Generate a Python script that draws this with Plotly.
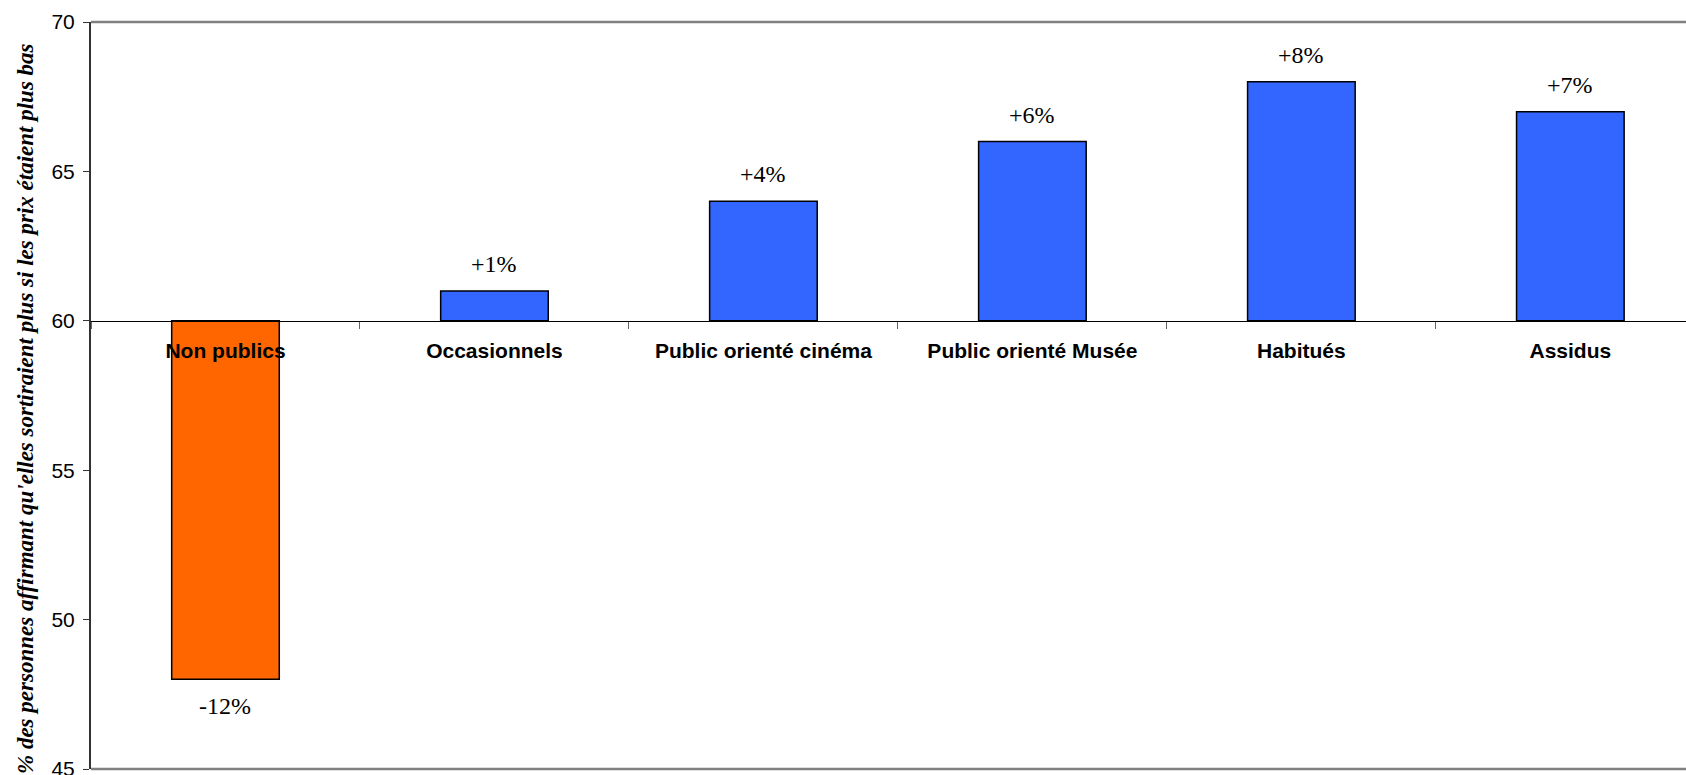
import plotly.graph_objects as go

categories = ["Non publics", "Occasionnels", "Public orienté cinéma",
              "Public orienté Musée", "Habitués", "Assidus"]
values = [48, 61, 64, 66, 68, 67]
value_labels = ["-12%", "+1%", "+4%", "+6%", "+8%", "+7%"]
bar_colors = ["#FF6600", "#3366FF", "#3366FF", "#3366FF", "#3366FF", "#3366FF"]
BASELINE = 60
Y_MIN, Y_MAX = 45, 70
y_ticks = [45, 50, 55, 60, 65, 70]
y_title = "% des personnes affirmant qu'elles sortiraient plus si les prix étaient plus bas"

fig = go.Figure()
fig.add_trace(go.Bar(
    x=categories,
    y=[v - BASELINE for v in values],
    base=BASELINE,
    marker=dict(color=bar_colors, line=dict(color="#000000", width=1.5)),
    width=0.40,
    hoverinfo="skip",
))

for cat, v, lab in zip(categories, values, value_labels):
    up = v >= BASELINE
    fig.add_annotation(
        x=cat, y=v, xref="x", yref="y", text=lab, showarrow=False,
        yanchor="bottom" if up else "top",
        yshift=12 if up else -12,
        font=dict(family="Liberation Serif, Times New Roman, serif", size=24, color="#000"),
    )

pos = (BASELINE - Y_MIN) / (Y_MAX - Y_MIN)

fig.update_layout(
    width=1686, height=775,
    margin=dict(l=91, r=0, t=22, b=6),
    paper_bgcolor="white", plot_bgcolor="white",
    showlegend=False,
    xaxis=dict(
        type="category", range=[-0.5, len(categories) - 0.57],
        anchor="free", position=pos, automargin=False,
        showline=True, linecolor="#000000", linewidth=1,
        ticks="outside", tickson="boundaries", ticklen=7, tickcolor="#666666", tickwidth=1,
        ticklabelstandoff=11,
        tickfont=dict(family="Liberation Sans, Arial, sans-serif", size=21, color="#000", weight="bold"),
        showgrid=False, zeroline=False,
    ),
    yaxis=dict(
        range=[Y_MIN, Y_MAX], tickvals=y_ticks, automargin=False,
        showline=True, linecolor="#333333", linewidth=2,
        ticks="outside", ticklen=6, tickcolor="#333333", tickwidth=1,
        ticklabelstandoff=4, ticklabeloverflow="allow",
        tickfont=dict(family="Liberation Sans, Arial, sans-serif", size=21, color="#000"),
        showgrid=False, zeroline=False,
    ),
)

# top and bottom frame lines of the plot area
for yy in (0, 1):
    fig.add_shape(type="line", xref="paper", yref="paper", x0=0, x1=1, y0=yy, y1=yy,
                  line=dict(color="#808080", width=2.5), layer="above")

fig.add_annotation(
    xref="paper", yref="paper", x=0, y=0.5, xshift=-80, yshift=-13,
    text=y_title, textangle=-90, showarrow=False,
    font=dict(family="Liberation Serif, Times New Roman, serif", size=23, color="#000",
              weight="bold", style="italic"),
)

fig.write_html("out.html")
